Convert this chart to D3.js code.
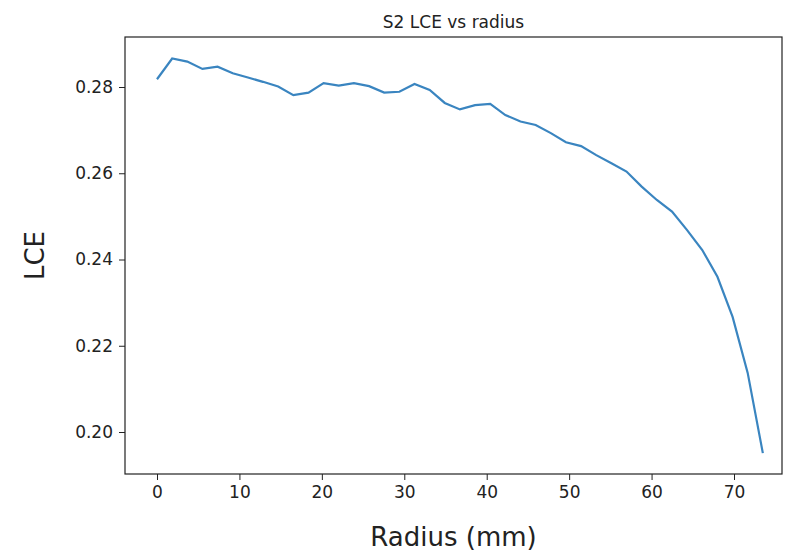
<!DOCTYPE html>
<html><head><meta charset="utf-8">
<script src="https://cdn.jsdelivr.net/npm/d3@7"></script>
<style>body{margin:0;background:#fff}text{font-family:"DejaVu Sans",sans-serif;fill:#000}</style>
</head><body><svg id="c" width="805" height="553"></svg>
<script>
const radius = [0,1.84,3.68,5.51,7.35,9.19,11.03,12.86,14.7,16.54,18.38,20.21,22.05,23.89,25.73,27.56,29.4,31.24,33.08,34.91,36.75,38.59,40.43,42.26,44.1,45.94,47.78,49.61,51.45,53.29,55.13,56.96,58.8,60.64,62.48,64.31,66.15,67.99,69.83,71.66,73.5];
const lce = [0.2818,0.2866,0.2859,0.2842,0.2847,0.2832,0.2822,0.2812,0.2801,0.2781,0.2787,0.2809,0.2803,0.2809,0.2802,0.2787,0.2789,0.2807,0.2793,0.2763,0.2748,0.2758,0.2761,0.2735,0.2720,0.2712,0.2693,0.2672,0.2663,0.2642,0.2623,0.2604,0.2569,0.2538,0.2511,0.2468,0.2422,0.2360,0.2267,0.2137,0.1951];
const xTicks = [0,10,20,30,40,50,60,70];
const yTicks = [0.20,0.22,0.24,0.26,0.28];
const L=125,R=782,T=37,B=474;
const x=d3.scaleLinear().domain([0,70]).range([157,734]);
const y=d3.scaleLinear().domain([0.20,0.28]).range([432,87]);
const svg=d3.select("#c");
svg.append("path").datum(radius.map((r,i)=>[r,lce[i]]))
 .attr("d",d3.line().x(d=>x(d[0])).y(d=>y(d[1])))
 .attr("fill","none").attr("stroke","#3a85c0").attr("stroke-width",2.2);
svg.append("rect").attr("x",L).attr("y",T).attr("width",R-L).attr("height",B-T).attr("fill","none").attr("stroke","#222").attr("stroke-width",1.2);
const xa=svg.append("g").attr("transform",`translate(0,${B})`).call(d3.axisBottom(x).tickValues(xTicks).tickSize(6).tickPadding(6).tickFormat(d3.format("d")));
const ya=svg.append("g").attr("transform",`translate(${L},0)`).call(d3.axisLeft(y).tickValues(yTicks).tickSize(6).tickPadding(6).tickFormat(d3.format(".2f")));
[xa,ya].forEach(a=>{a.select(".domain").remove();a.selectAll("line").attr("stroke","#222");a.selectAll("text").style("font-size","17px").style("font-family","DejaVu Sans").style("fill","#222");});
svg.append("text").attr("x",(L+R)/2).attr("y",28).attr("text-anchor","middle").style("font-size","17px").style("fill","#222").text("S2 LCE vs radius");
svg.append("text").attr("x",(L+R)/2).attr("y",546).attr("text-anchor","middle").style("font-size","26px").style("fill","#222").text("Radius (mm)");
svg.append("text").attr("transform",`translate(44,${(T+B)/2}) rotate(-90)`).attr("text-anchor","middle").style("font-size","26px").style("fill","#222").text("LCE");
</script></body></html>
